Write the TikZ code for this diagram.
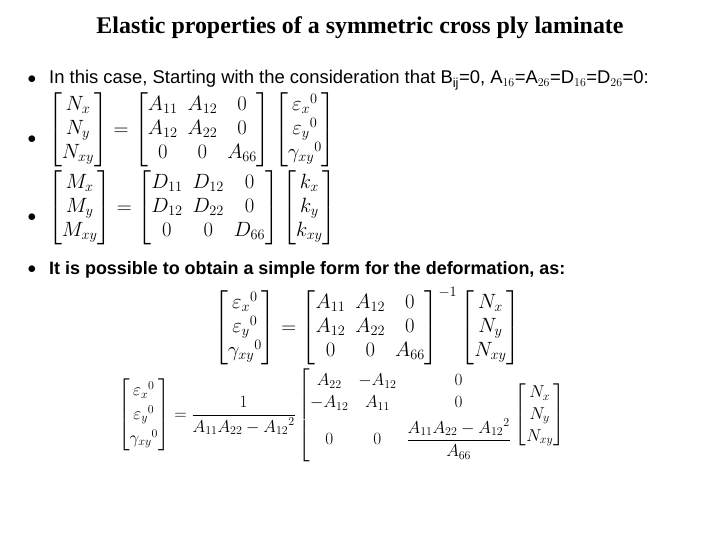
\documentclass[tikz,border=0pt]{standalone}
\usepackage{amsmath}
\usepackage{fontspec}
\setmainfont{Liberation Sans}
\newfontfamily\titlefont{Liberation Serif}
\begin{document}
\begin{tikzpicture}[x=1bp,y=-1bp,
    title_text/.style ={font=\titlefont\bfseries\fontsize{24}{28}\selectfont, anchor=center},
    body_text/.style ={font=\fontsize{18.5}{22}\selectfont, anchor=west, inner sep=0},
    bullet_mark/.style ={font=\fontsize{18}{22}\selectfont, anchor=center, inner sep=0},
    eq_block/.style ={font=\fontsize{20}{24}\selectfont, anchor=west, inner sep=0}]
    \useasboundingbox (0,0) rectangle (720,540);
    % title and bullets
    \node [title_text] (title) at (360,28) {Elastic properties of a symmetric cross ply laminate};
    \foreach \yb/\nm in {80/b1,140/b2,218/b3,270/b4}
        \node [bullet_mark] (\nm) at (32,\yb) {$\bullet$};
    \node [body_text] (line1) at (49,80) {In this case, Starting with the consideration that B$_{\text{ij}}$=0, A$_{16}$=A$_{26}$=D$_{16}$=D$_{26}$=0:};
    \node [body_text,font=\bfseries\fontsize{18}{22}\selectfont] (line4) at (49,270) {It is possible to obtain a simple form for the deformation, as:};
    % equations
    \node [eq_block] (eqN) at (48,130) {$\begin{bmatrix} N_x\\ N_y\\ N_{xy}\end{bmatrix}=\begin{bmatrix} A_{11} & A_{12} & 0\\ A_{12} & A_{22} & 0\\ 0 & 0 & A_{66}\end{bmatrix}\begin{bmatrix} {\varepsilon_x}^0\\ {\varepsilon_y}^0\\ {\gamma_{xy}}^0\end{bmatrix}$};
    \node [eq_block] (eqM) at (48,208) {$\begin{bmatrix} M_x\\ M_y\\ M_{xy}\end{bmatrix}=\begin{bmatrix} D_{11} & D_{12} & 0\\ D_{12} & D_{22} & 0\\ 0 & 0 & D_{66}\end{bmatrix}\begin{bmatrix} k_x\\ k_y\\ k_{xy}\end{bmatrix}$};
    \node [eq_block] (eqE) at (214,326) {$\begin{bmatrix} {\varepsilon_x}^0\\ {\varepsilon_y}^0\\ {\gamma_{xy}}^0\end{bmatrix}=\begin{bmatrix} A_{11} & A_{12} & 0\\ A_{12} & A_{22} & 0\\ 0 & 0 & A_{66}\end{bmatrix}^{-1}\begin{bmatrix} N_x\\ N_y\\ N_{xy}\end{bmatrix}$};
    \node [eq_block,font=\fontsize{18.5}{22}\selectfont] (eqS) at (118,415) {$\begin{bmatrix} {\varepsilon_x}^0\\[2pt] {\varepsilon_y}^0\\[2pt] {\gamma_{xy}}^0\end{bmatrix}=\dfrac{1}{A_{11}A_{22}-{A_{12}}^2}\left[\begin{matrix} A_{22} & -A_{12} & 0\\ -A_{12} & A_{11} & 0\\[4pt] 0 & 0 & \dfrac{A_{11}A_{22}-{A_{12}}^2}{A_{66}}\end{matrix}\right.\begin{bmatrix} N_x\\ N_y\\ N_{xy}\end{bmatrix}$};
\end{tikzpicture}
\end{document}
